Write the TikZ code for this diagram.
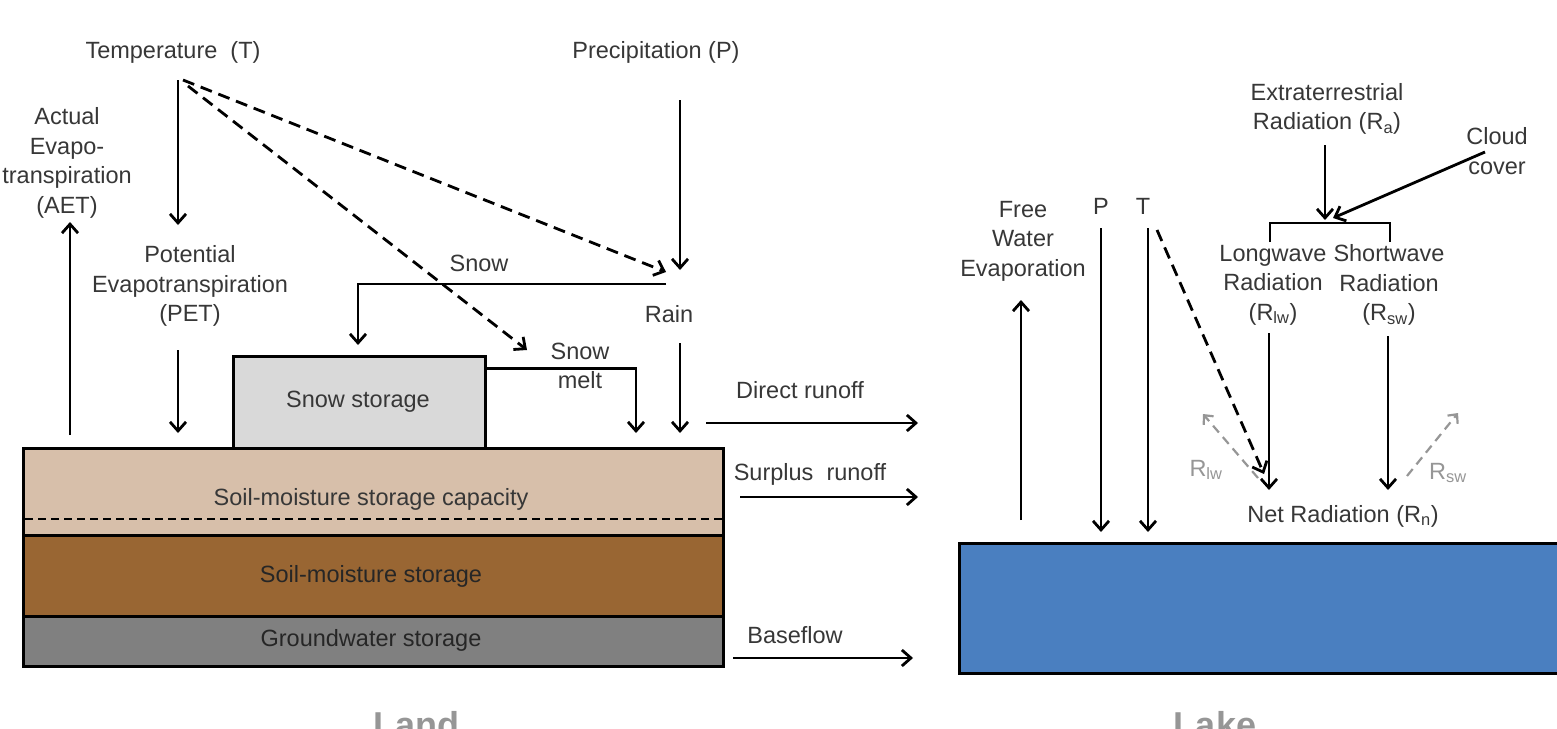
\documentclass[tikz,border=0pt]{standalone}
\usepackage{fontspec}
\setmainfont{Liberation Sans}
\usetikzlibrary{arrows.meta}
\definecolor{capc}{RGB}{215,191,170}
\definecolor{soilc}{RGB}{153,102,51}
\definecolor{gwc}{RGB}{128,128,128}
\definecolor{snowc}{RGB}{217,217,217}
\definecolor{lakec}{RGB}{74,127,192}
\definecolor{txtc}{RGB}{55,55,55}
\definecolor{refl}{RGB}{150,150,150}
\begin{document}
\begin{tikzpicture}[x=1pt,y=-1pt,
  txt/.style={font=\fontsize{23.5}{29.5}\selectfont, text=txtc, align=center, inner sep=0pt},
  big/.style={font=\fontsize{36}{40}\selectfont\bfseries, text=refl, inner sep=0pt, anchor=base},
  layer/.style={draw=black, line width=3pt, anchor=north west, inner sep=0pt},
  arr/.style={line width=2.8pt, -{Straight Barb[length=9pt,width=16pt,line width=2.8pt]}},
  darr/.style={arr, dash pattern=on 12pt off 7pt},
  garr/.style={line width=2.2pt, draw=refl, dash pattern=on 9pt off 6pt, -{Straight Barb[length=7pt,width=13pt,line width=2.2pt]}},
  flow/.style={line width=2.8pt}
]
\useasboundingbox (0,0) rectangle (1557,728);

% ---------- Land: layers ----------
\node[layer, fill=capc, minimum width=700pt, minimum height=87pt] (cap) at (22,447) {};
\node[layer, fill=soilc, minimum width=700pt, minimum height=81pt] (soil) at (22,534) {};
\node[layer, fill=gwc, minimum width=700pt, minimum height=50pt] (gw) at (22,615) {};
\node[layer, fill=snowc, minimum width=252pt, minimum height=92pt] (snow) at (232,355) {};
\draw[line width=2pt, dash pattern=on 8pt off 5pt] ([xshift=3pt,yshift=18pt]cap.south west) -- ([xshift=-3pt,yshift=18pt]cap.south east);

\node[txt] (snowt) at (358,402) {Snow storage};
\node[txt] (capt) at (371,499) {Soil-moisture storage capacity};
\node[txt, text=black!85] (soilt) at (371,576) {Soil-moisture storage};
\node[txt, text=black!85] (gwt) at (371,640) {Groundwater storage};

% ---------- Land: labels ----------
\node[txt] (temp) at (173,52) {Temperature\ \ (T)};
\node[txt] (prec) at (656,52) {Precipitation (P)};
\node[txt] (aet) at (67,163) {Actual\\Evapo-\\transpiration\\(AET)};
\node[txt] (pet) at (190,286) {Potential\\Evapotranspiration\\(PET)};
\node[txt] (snowl) at (479,263) {Snow};
\node[txt] (rain) at (669,314) {Rain};
\node[txt] (melt) at (580,366) {Snow\\melt};
\node[txt] (dro) at (800,390) {Direct runoff};
\node[txt] (sro) at (810,474) {Surplus\ \ runoff};
\node[txt] (bfl) at (795,635) {Baseflow};
\node[big] (land) at (416,737) {Land};

% ---------- Land: connectors ----------
\coordinate (aetA) at (70,435);  \coordinate (aetB) at (70,222);
\coordinate (tA) at (178,80);    \coordinate (tB) at (178,225);
\coordinate (petA) at (178,350); \coordinate (petB) at (178,433);
\coordinate (d1A) at (183,80);   \coordinate (d1B) at (666,272);
\coordinate (d2A) at (188,86);   \coordinate (d2B) at (527,350);
\coordinate (pA) at (680,100);   \coordinate (pB) at (680,270);
\coordinate (sA) at (666,284);   \coordinate (sB) at (358,345);
\coordinate (rA) at (680,343);   \coordinate (rB) at (680,433);
\coordinate (mB) at (636,433);
\coordinate (drA) at (706,423);  \coordinate (drB) at (918,423);
\coordinate (srA) at (740,497);  \coordinate (srB) at (918,497);
\coordinate (bfA) at (733,658);  \coordinate (bfB) at (913,658);

\draw[arr] (aetA) -- (aetB);
\draw[arr] (tA) -- (tB);
\draw[arr] (petA) -- (petB);
\draw[darr] (d1A) -- (d1B);
\draw[darr] (d2A) -- (d2B);
\draw[arr] (pA) -- (pB);
\draw[arr] (sA) -| (sB);
\draw[arr] (rA) -- (rB);
\draw[arr] ([yshift=34pt]snow.east) -| (mB);
\draw[arr] (drA) -- (drB);
\draw[arr] (srA) -- (srB);
\draw[arr] (bfA) -- (bfB);

% ---------- Lake ----------
\node[layer, fill=lakec, minimum width=620pt, minimum height=130pt] (lake) at (958,542) {};
\node[big] (laket) at (1215,737) {Lake};

\node[txt] (few) at (1023,241) {Free\\Water\\Evaporation};
\node[txt] (lp) at (1101,206) {P};
\node[txt] (lt) at (1143,206) {T};
\node[txt] (ra) at (1327,109) {Extraterrestrial\\Radiation (R\textsubscript{a})};
\node[txt] (cloud) at (1497,151) {Cloud\\cover};
\node[txt] (lw) at (1273,285) {Longwave\\Radiation\\(R\textsubscript{lw})};
\node[txt] (sw) at (1389,285) {Shortwave\\Radiation\\(R\textsubscript{sw})};
\node[txt] (rn) at (1343,516) {Net Radiation (R\textsubscript{n})};
\node[txt, text=refl] (rlwr) at (1206,470) {R\textsubscript{lw}};
\node[txt, text=refl] (rswr) at (1448,473) {R\textsubscript{sw}};

\coordinate (evA) at (1021,520);  \coordinate (evB) at (1021,300);
\coordinate (lpA) at (1101,228);  \coordinate (lpB) at (1101,532);
\coordinate (ltA) at (1148,228);  \coordinate (ltB) at (1148,532);
\coordinate (tdA) at (1157,230);  \coordinate (tdB) at (1264,474);
\coordinate (raA) at (1325,145);  \coordinate (raB) at (1325,220);
\coordinate (clA) at (1485,152);  \coordinate (clB) at (1333,218);
\coordinate (brL) at (1270,242);  \coordinate (brR) at (1390,242);
\coordinate (brY) at (1330,223);
\coordinate (lwA) at (1269,333);  \coordinate (lwB) at (1269,490);
\coordinate (swA) at (1388,336);  \coordinate (swB) at (1388,490);
\coordinate (glA) at (1258,478);  \coordinate (glB) at (1203,414);
\coordinate (gsA) at (1407,476);  \coordinate (gsB) at (1458,413);

\draw[arr] (evA) -- (evB);
\draw[arr] (lpA) -- (lpB);
\draw[arr] (ltA) -- (ltB);
\draw[darr] (tdA) -- (tdB);
\draw[arr] (raA) -- (raB);
\draw[arr] (clA) -- (clB);
\draw[flow] (brL) -- (brL |- brY) -- (brR |- brY) -- (brR);
\draw[arr] (lwA) -- (lwB);
\draw[arr] (swA) -- (swB);
\draw[garr] (glA) -- (glB);
\draw[garr] (gsA) -- (gsB);
\end{tikzpicture}
\end{document}
